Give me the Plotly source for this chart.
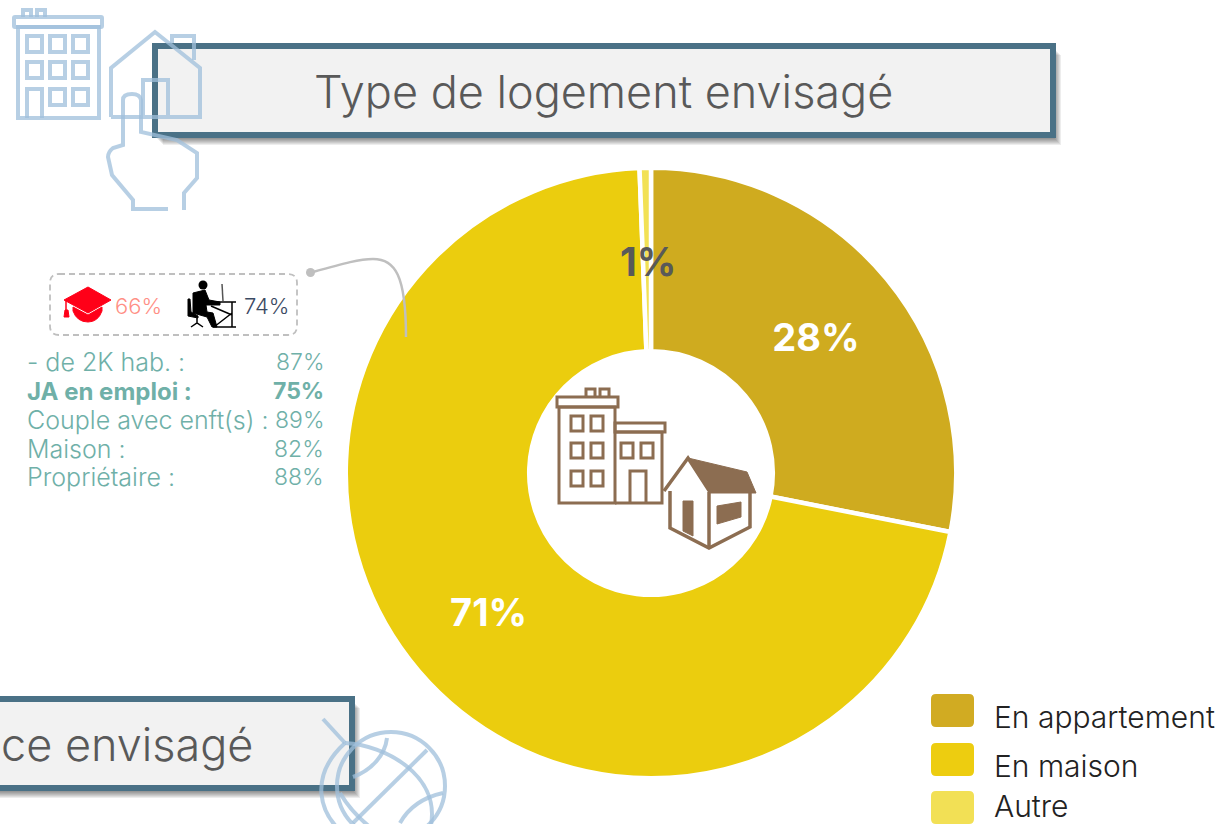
import plotly.graph_objects as go

# ---------- data ----------
categories = ["En appartement", "En maison", "Autre"]
values = [28.1, 71.3, 0.6]
slice_colors = ["#CFAB1F", "#EBCD0E", "#F2E155"]
title_main = "Type de logement envisagé"
title_second = "ce envisagé"
stat_labels = ["- de 2K hab. :", "JA en emploi :", "Couple avec enft(s) :", "Maison :", "Propriétaire :"]
stat_values = [87, 75, 89, 82, 88]
top_stats = [66, 74]
other_label = "1%"

W, H = 1224, 824
FONT = "Inter"
BLUE = "rgb(160,192,220)"
BROWN = "#8C6D51"
TEAL = "#6FB0A8"
BORDER = "#4A7186"

fig = go.Figure()
fig.add_trace(go.Scatter(x=[], y=[], mode="lines", hoverinfo="skip", showlegend=False))
fig.add_trace(go.Pie(
    labels=categories, values=values, sort=False, direction="clockwise", rotation=0,
    hole=0.399, marker=dict(colors=slice_colors, line=dict(color="white", width=4.5)),
    texttemplate="%{value:.0f}%", textposition=["inside", "inside", "none"],
    insidetextorientation="horizontal",
    insidetextfont=dict(family=FONT, size=38, color="white", weight="bold"),
    domain=dict(x=[345.75 / W, 956.25 / W], y=[1 - 778.25 / H, 1 - 167.75 / H]),
    showlegend=False, hoverinfo="label+percent",
))

shapes, annos = [], []


def rect(x0, y0, x1, y1, fill="rgba(0,0,0,0)", line=None, lw=0, layer="above", opacity=1, dash=None):
    ln = dict(color=line or "rgba(0,0,0,0)", width=lw)
    if dash:
        ln["dash"] = dash
    shapes.append(dict(type="rect", xref="x", yref="y", x0=x0, y0=y0, x1=x1, y1=y1,
                       fillcolor=fill, line=ln, layer=layer, opacity=opacity))


def path(d, color=None, lw=0, fill=None, layer="above", opacity=1, dash=None):
    ln = dict(color=color or "rgba(0,0,0,0)", width=lw)
    if dash:
        ln["dash"] = dash
    s = dict(type="path", xref="x", yref="y", path=d, line=ln, layer=layer, opacity=opacity)
    if fill:
        s["fillcolor"] = fill
    shapes.append(s)


def circle(cx, cy, r, color=None, lw=0, fill=None, opacity=1):
    shapes.append(dict(type="circle", xref="x", yref="y", x0=cx - r, x1=cx + r, y0=cy - r, y1=cy + r,
                       line=dict(color=color or "rgba(0,0,0,0)", width=lw),
                       fillcolor=fill or "rgba(0,0,0,0)", layer="above", opacity=opacity))


def rrect(x0, y0, x1, y1, r):
    return (f"M {x0 + r},{y0} L {x1 - r},{y0} Q {x1},{y0} {x1},{y0 + r} L {x1},{y1 - r} Q {x1},{y1} {x1 - r},{y1} "
            f"L {x0 + r},{y1} Q {x0},{y1} {x0},{y1 - r} L {x0},{y0 + r} Q {x0},{y0} {x0 + r},{y0} Z")


def text(x, y, s, size, color, anchor="left", bold=False, font=FONT, weight=300):
    annos.append(dict(x=x, y=y, xref="x", yref="y", text=s, showarrow=False,
                      xanchor=anchor, yanchor="middle", align=anchor,
                      font=dict(family=font, size=size, color=color, weight=700 if bold else weight)))


def box(x0, y0, x1, y1):
    for i in range(0, 10):
        rect(x0 + i - 1, y0 + i, x1 + i - 1, y1 + i + 1, fill="rgba(0,0,0,0.07)", layer="below")
    rect(x0, y0, x1, y1, fill="#F2F2F2", line=BORDER, lw=6, layer="below")


# title boxes
box(155, 46, 1053, 135)
box(-20, 699, 352, 788)
text(603, 91, title_main, 45, "#595959", "center")
text(255, 744, title_second, 45, "#595959", "right")

# top-left icons (apartment, house, hand)
ic = dict(color=BLUE, lw=4, opacity=0.75)
path(rrect(18, 27, 99, 118, 0), **ic)
path(rrect(14, 17, 102, 27, 1), **ic)
for x in (23, 37):
    path(f"M {x},17 L {x},10 L {x + 8},10 L {x + 8},17", **ic)
for yy in (36, 62, 89):
    for xx in (27, 50, 73):
        if not (yy == 89 and xx == 27):
            path(rrect(xx, yy, xx + 15, yy + 16, 0), **ic)
path("M 27,118 L 27,89 L 42,89 L 42,118", **ic)
path("M 111,117 L 111,68 L 155,32 L 200,68 L 200,117 L 111,117", **ic)
path("M 172,43 L 172,36 L 194,36 L 194,60", **ic)
path("M 143,115 L 143,80 L 168,80 L 168,115", **ic)
path("M 184,210 L 184,193 L 197,178 L 197,153 L 177,140 L 141,132 L 141,100 "
     "Q 140,94 132,94 Q 123,94 123,100 L 123,145 L 113,148 Q 108,152 108,157 L 112,175 L 133,200 L 133,209 L 168,209", **ic)

# globe icon
circle(391, 786, 54, **ic)
path("M 323,719 L 345,743", **ic)
path("M 345,743 C 310,775 315,815 352,840", **ic)
path("M 427,750 L 353,823", **ic)
path("M 353,777 C 372,770 385,755 387,738", **ic)
path("M 400,823 C 410,805 425,797 443,793", **ic)
path("M 345,743 C 385,745 440,775 431,825", **ic)
path("M 340,793 C 350,810 365,825 385,838", **ic)

# centre icon
br = dict(color=BROWN, lw=3)
path(rrect(559, 407, 615, 503, 0), **br)
path(rrect(557, 397, 618, 407, 0), **br)
for x in (586, 600):
    path(f"M {x},397 L {x},389 L {x + 9},389 L {x + 9},397", **br)
for yy in (416, 443, 471):
    for xx in (571, 591):
        path(rrect(xx, yy, xx + 12, yy + 15, 0), **br)
path("M 615,432 L 662,432 L 662,503 L 615,503", **br)
path(rrect(615, 423, 665, 432, 0), **br)
for xx in (621, 641):
    path(rrect(xx, 443, xx + 12, 458, 0), **br)
path("M 630,503 L 630,471 L 646,471 L 646,503", **br)
path("M 664,491 L 688,458 L 710,492", color=BROWN, lw=3.5)
path("M 688,458 L 747,472 L 756,493 L 710,493 Z", fill=BROWN, color=BROWN, lw=1)
path("M 670,491 L 670,528 L 709,548 L 750,527 L 750,493", color=BROWN, lw=3.5)
path("M 709,492 L 709,548", color=BROWN, lw=3.5)
path("M 683,501 L 693,501 L 693,536 L 683,531 Z", fill=BROWN, color=BROWN, lw=1)
path("M 717,506 L 741,502 L 741,517 L 717,524 Z", fill=BROWN, color=BROWN, lw=1)

# callout
path(rrect(50, 274, 297, 335, 9), color="#BFBFBF", lw=1.8, dash="6px,4px")
path("M 313,272 C 345,263 360,259 373,259 C 395,259 406,275 406,337", color="#BFBFBF", lw=2.5)
circle(310.5, 272.5, 4.5, fill="#BFBFBF", color="#BFBFBF", lw=0)

# graduation cap
RED = "#FF0018"
path("M 64,300 L 88,287 L 111,300 L 88,313 Z", fill=RED, color=RED, lw=1)
path("M 73,307 L 88,315 L 102,307 L 102,311 Q 98,322 88,322 Q 77,322 73,311 Z", fill=RED, color=RED, lw=1)
path("M 66,300 L 66,312", color=RED, lw=1.5)
path("M 64,317 L 65,310 L 68,310 L 69,317 Z", fill=RED, color=RED, lw=1)

# person at desk
K = "#000000"
circle(203, 285, 4.5, fill=K)
path("M 193,293 L 205,290 L 209,300 L 220,302 L 220,305 L 206,305 L 207,312 L 213,313 L 217,327 L 212,327 L 207,317 "
     "L 193,313 Z", fill=K, color=K, lw=1)
path("M 188,299 L 190,299 L 191,312 L 198,316 L 198,318 L 188,316 Z", fill=K, color=K, lw=1)
path("M 197,318 L 197,323 M 191,327 L 197,323 L 203,327", color=K, lw=1.5)
path("M 207,302 L 236,302 M 232,302 L 232,327 M 211,306 L 232,315 M 214,327 L 232,313 M 213,327 L 236,327", color=K, lw=1.5)
path("M 222,284 L 223,301", color="#555555", lw=1.5)
text(113, 306, f"{top_stats[0]}%", 22, "#FF8F85")
text(242, 306, f"{top_stats[1]}%", 22, "#3B4A63")

# stats list
ys = [362, 391, 420, 449, 477]
for lab, val, y in zip(stat_labels, stat_values, ys):
    bold = lab.startswith("JA")
    text(25, y, lab, 24 if bold else 25, TEAL, bold=bold)
    text(326, y, f"{val}%", 23, TEAL, "right", bold=bold)

# 1% label
text(648, 261, other_label, 39, "#595959", "center", bold=True)

# legend
for cat, col, y0 in zip(categories, ["#D1AB22", "#EDCD10", "#F2E055"], [694, 743, 791]):
    path(rrect(931, y0, 974, y0 + 33, 5), fill=col)
    text(992, y0 + 23 if cat != "Autre" else y0 + 15, cat, 30, "#222222")

fig.update_layout(
    width=W, height=H, margin=dict(l=0, r=0, t=0, b=0), paper_bgcolor="white", plot_bgcolor="white",
    showlegend=False, shapes=shapes, annotations=annos,
    xaxis=dict(range=[0, W], visible=False, fixedrange=True),
    yaxis=dict(range=[H, 0], visible=False, fixedrange=True),
)
fig.write_html("out.html", config=dict(displayModeBar=False),
               post_script="document.body.style.margin='0';")
